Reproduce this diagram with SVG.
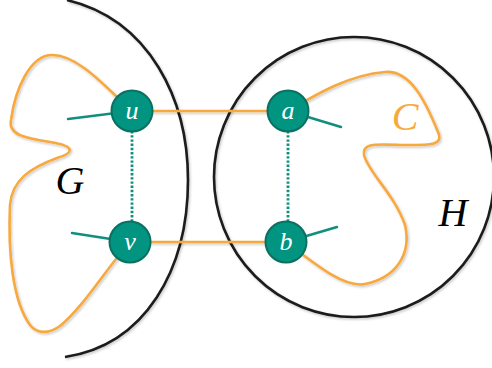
<svg xmlns="http://www.w3.org/2000/svg" width="492" height="368" viewBox="0 0 492 368">
  <style>
    .outline { fill: none; stroke: #1c1c1c; stroke-width: 2.6; }
    .cycle { fill: none; stroke: #f8a93c; stroke-width: 2.6; stroke-linejoin: round; stroke-linecap: round; }
    .stub { fill: none; stroke: #108f7d; stroke-width: 2.5; stroke-linecap: round; }
    .dotted { fill: none; stroke: #108f7d; stroke-width: 2.8; stroke-dasharray: 2.4 1.8; }
    .node circle { fill: #009481; stroke: #0b6f61; stroke-width: 2; }
    .node text { fill: #ffffff; font-family: "Liberation Serif", "DejaVu Serif", serif; font-style: italic; font-size: 26px; text-anchor: middle; }
    .graph-label { font-family: "Liberation Serif", "DejaVu Serif", serif; font-style: italic; font-size: 40px; text-anchor: middle; }
  </style>
  <defs>
    <filter id="soft-shadow" x="-10%" y="-10%" width="120%" height="120%">
      <feDropShadow dx="1.2" dy="1.5" stdDeviation="0.9" flood-color="#000000" flood-opacity="0.22"/>
    </filter>
  </defs>

  <rect width="492" height="368" fill="#ffffff"/>

  <!-- graph outlines G and H -->
  <g id="graph-G" filter="url(#soft-shadow)">
    <path class="outline" d="M67,0 C150,20 188,100 188,180 C188,270 145,345 65,357"/>
  </g>
  <g id="graph-H" filter="url(#soft-shadow)">
    <circle class="outline" cx="354" cy="177" r="140"/>
  </g>

  <g id="connectors">
    <!-- orange cycle C through both graphs -->
    <g filter="url(#soft-shadow)">
      <path class="cycle" d="M132,111 C110,92 80,55 52,55 C30,55 15,90 11,120 C8,135 25,138 50,142 C76,146 74,153 57,158 C30,168 12,180 10,205 C8,250 12,300 30,325 C38,335 50,333 60,326 C85,305 105,270 130,242"/>
      <path class="cycle" d="M132,111 L288,111"/>
      <path class="cycle" d="M130,242 L286,242"/>
      <path class="cycle" d="M288,111 C320,92 350,75 385,72 C410,70 425,100 438,132 C444,146 430,145 400,145 C375,144 362,143 364,155 C368,172 395,195 405,225 C412,255 395,278 365,284 C345,288 320,268 286,242"/>
    </g>
    <!-- short edges leaving each vertex -->
    <path class="stub" d="M132,111 L68,119"/>
    <path class="stub" d="M130,242 L72,233"/>
    <path class="stub" d="M288,111 L341,127"/>
    <path class="stub" d="M286,242 L337,227"/>
    <!-- dotted links u–v and a–b -->
    <path class="dotted" d="M132,131 L132,222"/>
    <path class="dotted" d="M288,131 L288,222"/>
  </g>

  <g id="node-u" class="node">
    <circle cx="132" cy="111" r="20.5"/>
    <text x="132" y="119">u</text>
  </g>
  <g id="node-v" class="node">
    <circle cx="130" cy="242" r="20.5"/>
    <text x="130" y="250">v</text>
  </g>
  <g id="node-a" class="node">
    <circle cx="288" cy="111" r="20.5"/>
    <text x="288" y="119">a</text>
  </g>
  <g id="node-b" class="node">
    <circle cx="286" cy="242" r="20.5"/>
    <text x="286" y="250">b</text>
  </g>

  <g id="labels">
    <text class="graph-label" x="70" y="194" fill="#000000">G</text>
    <text class="graph-label" x="453" y="226" fill="#000000">H</text>
    <text class="graph-label" x="405" y="130" fill="#f8a93c">C</text>
  </g>
</svg>
